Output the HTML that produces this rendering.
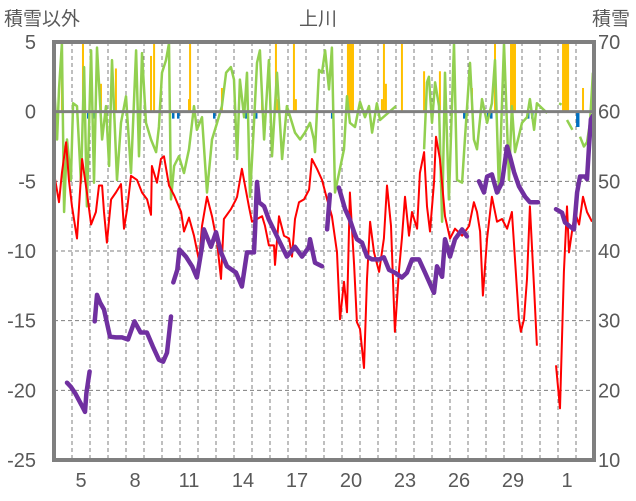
<!DOCTYPE html>
<html><head><meta charset="utf-8"><style>
html,body{margin:0;padding:0;background:#fff;}
svg{display:block;font-family:"Liberation Sans","Noto Sans CJK JP",sans-serif;}
</style></head><body>
<svg id="chart" width="636" height="501" viewBox="0 0 636 501" xmlns="http://www.w3.org/2000/svg">
<text x="4" y="25" font-size="19" fill="#595959">積雪以外</text>
<text x="318" y="25" font-size="19" fill="#595959" text-anchor="middle">上川</text>
<text x="630" y="25" font-size="19" fill="#595959" text-anchor="end">積雪</text>
<g id="grid"></g>
<g id="marks"></g>
<g id="axes"></g>
</svg>
<script>
const leftTicks=[5,0,-5,-10,-15,-20,-25];
const rightTicks=[70,60,50,40,30,20,10];
const xTickLabels=["5","8","11","14","17","20","23","26","29","1"];
const xTickDays=[1,4,7,10,13,16,19,22,25,28];
const redT=[0,.28,.44,.67,.83,1,1.28,1.56,1.83,2.06,2.33,2.5,2.67,2.78,2.94,3.17,3.44,3.72,3.89,4.06,4.28,4.61,4.89,5.17,5.39,5.44,5.72,5.94,6.11,6.39,6.67,7.06,7.22,7.5,7.78,8.06,8.22,8.5,8.78,9.06,9.28,9.44,9.83,10.11,10.17,10.44,10.83,11,11.28,11.56,11.72,11.94,12.22,12.28,12.5,12.78,13.06,13.22,13.39,13.61,13.89,14.17,14.33,14.61,14.89,15.17,15.44,15.72,15.89,16.11,16.28,16.44,16.67,16.83,17,17.22,17.39,17.56,17.78,18.06,18.33,18.5,18.72,18.94,19.17,19.33,19.5,19.72,19.89,20.17,20.33,20.56,20.72,20.89,21.11,21.22,21.44,21.72,22,22.28,22.67,23.06,23.33,23.5,23.67,23.83,24.06,24.33,24.61,24.89,25.17,25.44,25.61,25.83,25.94,26.11,26.28,26.44,26.67,26.83,27.3,27.89,28.11,28.33,28.5,28.61,28.78,28.94,29.17,29.39,29.61,29.89];
const redV=[-4.4,-6.5,-4.4,-2.2,-4.9,-6.8,-9.1,-3.4,-5.8,-8.1,-7.2,-5.3,-5.3,-7.2,-9.4,-6.3,-5.8,-5.2,-8.4,-7,-4.6,-4.9,-5.8,-6.3,-7.4,-3.9,-5.1,-3.4,-3.2,-5.3,-6,-7.2,-8.6,-7.6,-8.9,-10.7,-8.2,-6.1,-7.5,-9.4,-12,-7.7,-7,-6.3,-6.1,-4.1,-6.8,-7.9,-7.7,-7.5,-8.2,-9.6,-9.6,-11,-7.5,-8.9,-9.1,-10.4,-7.7,-6.5,-6.3,-5.6,-3.4,-4.1,-4.9,-6.3,-7.5,-10.1,-14.9,-12.2,-14.4,-5.8,-11,-15.1,-15.6,-18.4,-12,-7.9,-10.1,-11.5,-9.1,-5.3,-8.2,-15.8,-11.3,-9.1,-6.1,-8.9,-7.2,-8.4,-4.4,-2.9,-6.8,-8.6,-5.1,-1.8,-3.4,-7.5,-9.1,-8.4,-8.9,-8.2,-6.5,-7.2,-8.6,-13.2,-9.1,-6.1,-7.9,-7.7,-8.4,-7.2,-10.6,-14.9,-15.8,-14.9,-12,-6.8,-12.7,-16.8,null,-18.2,-21.3,-11.5,-6.8,-10.1,-8.6,-7.2,-8.1,-6.1,-7.2,-7.9];
const greenT=[0,.17,.28,.44,.56,.72,.94,1.06,1.28,1.5,1.67,1.83,2.06,2.22,2.39,2.67,2.89,3.06,3.22,3.5,3.72,4,4.28,4.56,4.72,4.89,5.11,5.39,5.67,5.83,6,6.22,6.39,6.5,6.67,6.94,7.22,7.5,7.78,7.94,8.22,8.5,8.78,9.06,9.33,9.56,9.83,10,10.17,10.33,10.56,10.72,10.89,11.11,11.28,11.44,11.67,11.94,12.11,12.39,12.67,12.94,13.22,13.39,13.67,13.94,14.22,14.44,14.5,14.72,14.89,15.06,15.28,15.44,15.61,16.11,16.28,16.44,16.72,17,17.28,17.5,17.67,17.94,18.11,19,20.33,20.56,20.72,20.83,21,21.17,21.39,21.56,21.72,21.94,22.22,22.39,22.67,22.83,23.11,23.33,23.5,23.78,24.06,24.33,24.5,24.72,25,25.28,25.44,25.61,26,26.28,26.44,26.67,26.83,27.4,27.94,28.06,28.2,28.33,28.5,28.8,29.06,29.22,29.44,29.61,29.78,29.94];
const greenV=[2.1,-2,1.6,4.9,-7.2,-2,-4.9,.6,.4,-5.1,3.2,-6.8,4.4,-5.1,4.6,-2,.4,-3.9,3.7,-4.9,-.8,1.1,-4.4,4.4,-3.2,4.2,-.8,-2,-2.9,-1.1,2.8,3.7,4.9,-6.3,-3.9,-3.2,-4.4,-2.7,.4,-1.3,-.4,-5.8,-2,-.8,.4,2.8,3.2,2.3,-3.4,2.3,-.4,2.8,-6.1,-.8,3.5,4.4,-2,3.7,-3.2,2.8,-3.4,.4,-.8,-1.5,-2,-1.5,-.8,-2,-2.9,3,2.8,4.4,1.6,4.6,-5.8,-2.7,1.1,-.8,-1.1,.7,-.4,.4,-1.5,.6,-.6,.4,null,-2.7,2.1,2.5,-.8,2.1,.4,-7.9,2.8,-6.3,4.9,-4.9,-5.1,-2,3.5,-2,-2.7,.9,-.8,.6,3.7,-5.8,4.9,-4.9,.4,-2.9,-.8,-.4,.9,-1.3,.6,-.1,null,.6,.5,null,-.6,-1.3,null,-1.8,-2.5,-2.2,-.8,2.8,1.6];
const snowT=[.72,.94,1.17,1.53,1.72,1.8,1.98,2.1,2.26,2.39,2.56,2.78,3.11,3.44,3.78,4.11,4.47,4.81,5.16,5.49,5.83,6.06,6.28,6.5,6.56,6.63,6.85,6.97,7.33,7.67,7.94,8.22,8.33,8.72,9,9.28,9.61,10.11,10.44,10.72,11.11,11.17,11.28,11.39,11.67,11.94,12.28,12.67,12.94,13.39,13.78,14.17,14.22,14.5,14.89,15.0,15.17,15.33,15.6,15.83,16.17,16.44,16.67,16.83,17.11,17.39,17.67,18.06,18.33,18.61,18.94,19.33,19.61,19.89,20.28,20.61,21.11,21.28,21.56,21.72,22,22.28,22.67,22.94,23.3,23.61,23.89,24.06,24.33,24.61,24.89,25.17,25.33,25.56,25.83,26.17,26.44,26.89,27.4,27.89,28.22,28.39,28.67,28.89,29.06,29.22,29.5,29.61,29.72,29.83,29.94];
const snowV=[21.1,20.5,19.6,17.9,16.9,19.6,22.7,null,29.9,33.7,32.6,31.6,27.7,27.6,27.6,27.3,29.9,28.3,28.3,26.3,24.4,24.1,25.4,30.6,null,35.5,37.3,40.2,39.2,37.8,36.2,40.6,43.1,40.6,42.7,39.8,37.8,36.9,34.9,39.8,39.8,43.1,49.9,47,46.4,44.5,42.7,40.6,39.2,40.6,39.2,40.6,41.7,38.3,37.8,null,43.1,48.1,null,49.1,46,44.5,42.7,41.7,41.2,39.2,38.8,38.8,39.1,37.3,36.9,36.2,36.9,38.8,38.8,36.9,34,37.8,36.3,41.7,39.2,41.7,43.1,42.1,null,50,48.4,50.7,51,48.4,49.8,55,53.6,51.3,49.3,47.8,47,47,null,46,45.5,44.1,43.5,43.1,48.4,50.7,50.7,50.3,55,58.9,59.4];
const snowfallT=[.44,1.61,2.61,3.44,5.39,5.56,7.5,7.56,9.33,11.56,12.33,12.44,13.33,13.44,16.33,16.39,16.44,16.5,16.56,16.61,18.22,18.33,18.44,19.33,20.56,21.44,23.22,24.5,25.39,25.5,25.61,28.28,28.33,28.39,28.44,28.5,28.56,29.39];
const snowfallV=[5,5,2,3.1,4,5,.9,5,1.7,.9,5,.9,5,.9,5,5,5,5,5,5,.9,5,2,5,2.9,2.9,1.7,5,5,5,5,5,5,5,5,5,5,1.7];
const negT=[1.89,2.17,6.61,6.89,8.89,10.67,11.22,15.44,21.67,22.78,24.11,24.28,26.33,26.56,29.06,29.11];
const negV=[-.5,-.5,-.5,-.5,-.5,-.5,-.5,-.5,-.5,-.5,-.5,-.5,-.5,-.5,-1.1,-1.1];

const NS="http://www.w3.org/2000/svg";
const X0=54,X1=594,Y0=42,Y1=460,DAYS=30;
const xs=t=>X0+t*(X1-X0)/DAYS;
const yl=v=>Y0+(5-v)*(Y1-Y0)/30;
const yr=v=>Y0+(70-v)*(Y1-Y0)/60;
function mk(tag,attrs,parent){const e=document.createElementNS(NS,tag);for(const k in attrs)e.setAttribute(k,attrs[k]);parent.appendChild(e);return e;}
const grid=document.getElementById('grid'),marks=document.getElementById('marks'),axes=document.getElementById('axes');
for(let d=1;d<DAYS;d++){const l=mk('line',{x1:xs(d),x2:xs(d),y1:Y0,y2:Y1,stroke:'#7f7f7f','stroke-width':1,'stroke-dasharray':'4,3'},grid);

}
leftTicks.forEach(v=>{if(v<5&&v>-25&&v!==0){const l=mk('line',{x1:X0,x2:X1,y1:yl(v),y2:yl(v),stroke:'#7f7f7f','stroke-width':1,'stroke-dasharray':'4,3'},grid);

}});
function path(ts,vs,yf){let d='',pen=false;for(let i=0;i<ts.length;i++){if(vs[i]===null){pen=false;continue;}d+=(pen?'L':'M')+xs(ts[i]).toFixed(1)+','+yf(vs[i]).toFixed(1);pen=true;}return d;}
snowfallT.forEach((t,i)=>{const y=yl(Math.min(5,snowfallV[i]));const r=mk('rect',{x:xs(t)-1,y:y,width:2,height:yl(0)-y,fill:'#ffc000'},marks);

});
negT.forEach((t,i)=>{const r=mk('rect',{x:xs(t)-1,y:yl(0),width:2.5,height:yl(negV[i])-yl(0),fill:'#0070c0'},marks);

});
const g=mk('path',{d:path(greenT,greenV,yl),fill:'none',stroke:'#92d050','stroke-width':2.5,'stroke-linejoin':'round'},marks);


const r=mk('path',{d:path(redT,redV,yl),fill:'none',stroke:'#ff0000','stroke-width':2,'stroke-linejoin':'round'},marks);


const p=mk('path',{d:path(snowT,snowV,yr),fill:'none',stroke:'#7030a0','stroke-width':4.5,'stroke-linejoin':'round','stroke-linecap':'round'},marks);


const z=mk('line',{x1:X0,x2:X1,y1:yl(0),y2:yl(0),stroke:'#7f7f7f','stroke-width':3},axes);


const f=mk('rect',{x:X0,y:Y0,width:X1-X0,height:Y1-Y0,fill:'none',stroke:'#7f7f7f','stroke-width':4},axes);


leftTicks.forEach(v=>{const t=mk('text',{x:36,y:yl(v)+7,'font-size':20,fill:'#595959','text-anchor':'end'},axes);t.textContent=v;

});
rightTicks.forEach(v=>{const t=mk('text',{x:598,y:yr(v)+7,'font-size':20,fill:'#595959'},axes);t.textContent=v;

});
xTickLabels.forEach((s,i)=>{const t=mk('text',{x:xs(xTickDays[i]+0.5),y:487,'font-size':20,fill:'#595959','text-anchor':'middle'},axes);t.textContent=s;

});
</script>
</body></html>
